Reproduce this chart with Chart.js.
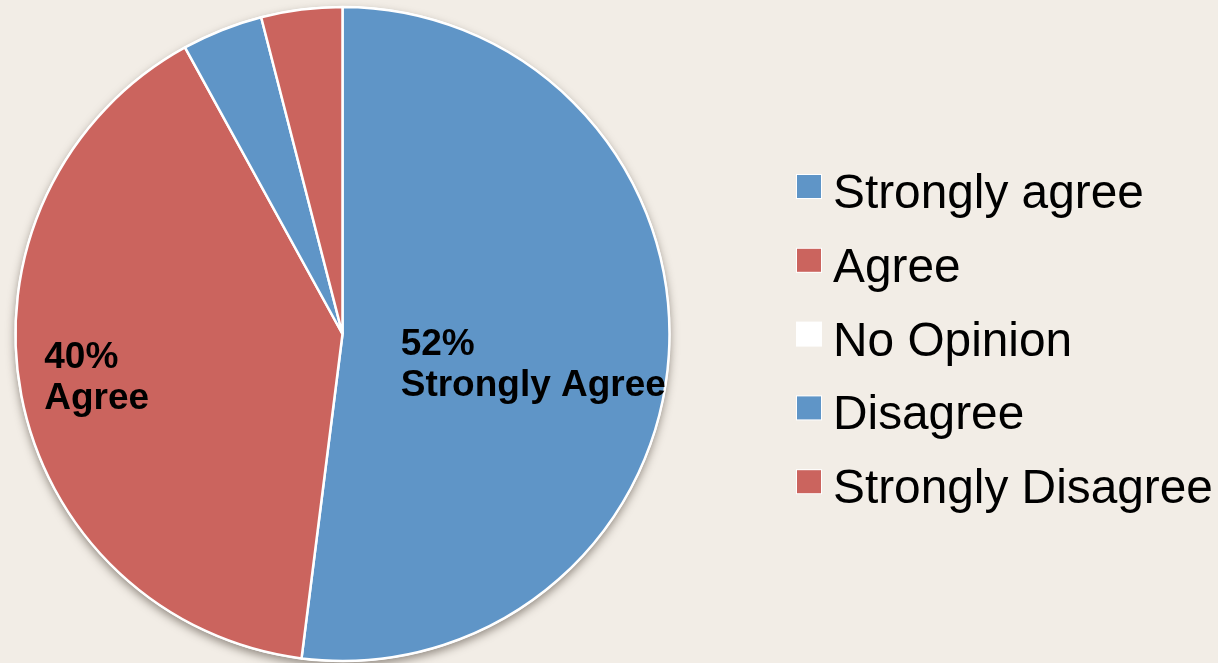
<!DOCTYPE html>
<html>
<head>
<meta charset="utf-8">
<script src="https://cdn.jsdelivr.net/npm/chart.js@4.4.1/dist/chart.umd.min.js"></script>
<style>
  html, body { margin: 0; padding: 0; background: #F2EDE6; }
  #survey-chart { display: block; }
</style>
</head>
<body>
<canvas id="survey-chart" width="1218" height="663"></canvas>
<script>
// Survey responses
const categories = ['Strongly agree', 'Agree', 'No Opinion', 'Disagree', 'Strongly Disagree'];
const percentages = [52, 40, 0, 4, 4];
const sliceColors = ['#5F95C7', '#CB645E', '#FFFFFF', '#5F95C7', '#CB645E'];

// In-slice captions: [slice index, caption], with offsets as fractions of the radius
const sliceCaptions = [
  { index: 0, text: 'Strongly Agree', dx: 0.178, dy: 0.064 },
  { index: 1, text: 'Agree', dx: -0.912, dy: 0.104 }
];

const FONT = '"Liberation Sans", Arial, Helvetica, sans-serif';

// soft drop shadow under the pie
const pieShadow = {
  id: 'pieShadow',
  beforeDatasetsDraw(chart) {
    const arc = chart.getDatasetMeta(0).data[0];
    if (!arc) return;
    const { x, y, outerRadius } = arc.getProps(['x', 'y', 'outerRadius'], true);
    const ctx = chart.ctx;
    ctx.save();
    ctx.shadowColor = 'rgba(60, 50, 40, 0.5)';
    ctx.shadowBlur = 8;
    ctx.shadowOffsetY = 4;
    ctx.fillStyle = '#FFFFFF';
    ctx.beginPath();
    ctx.arc(x, y, outerRadius + 1, 0, Math.PI * 2);
    ctx.fill();
    ctx.restore();
  }
};

// percentage + category text inside the big slices
const captionPlugin = {
  id: 'captions',
  afterDatasetsDraw(chart) {
    const ctx = chart.ctx;
    const values = chart.data.datasets[0].data;
    const total = values.reduce((a, b) => a + b, 0);
    sliceCaptions.forEach(c => {
      const arc = chart.getDatasetMeta(0).data[c.index];
      const { x, y, outerRadius } = arc.getProps(['x', 'y', 'outerRadius'], true);
      const left = x + c.dx * outerRadius;
      const top = y + c.dy * outerRadius;
      const pct = Math.round(values[c.index] / total * 100) + '%';
      ctx.save();
      ctx.fillStyle = '#000000';
      ctx.font = 'bold 37px ' + FONT;
      ctx.textAlign = 'left';
      ctx.textBaseline = 'alphabetic';
      ctx.fillText(pct, left, top);
      ctx.fillText(c.text, left, top + 41);
      ctx.restore();
    });
  }
};

// legend column on the right
const legendPlugin = {
  id: 'sideLegend',
  afterDraw(chart) {
    const ctx = chart.ctx;
    const ds = chart.data.datasets[0];
    const boxX = 797, textX = 833, firstBaseline = 208, rowGap = 73.8;
    ctx.save();
    ctx.font = '47.8px ' + FONT;
    ctx.textAlign = 'left';
    ctx.textBaseline = 'alphabetic';
    chart.data.labels.forEach((label, i) => {
      const base = firstBaseline + i * rowGap;
      ctx.fillStyle = '#FFFFFF';
      ctx.fillRect(boxX - 1, base - 34, 26, 25);
      ctx.fillStyle = ds.backgroundColor[i];
      ctx.fillRect(boxX, base - 33, 24, 23);
      ctx.fillStyle = '#000000';
      ctx.fillText(label, textX, base);
    });
    ctx.restore();
  }
};

const ctx = document.getElementById('survey-chart').getContext('2d');
new Chart(ctx, {
  type: 'pie',
  data: {
    labels: categories,
    datasets: [{
      data: percentages,
      backgroundColor: sliceColors,
      borderColor: '#FFFFFF',
      borderWidth: 2.5
    }]
  },
  options: {
    responsive: false,
    animation: false,
    radius: 327,
    layout: { padding: { left: 0, right: 533, top: 5, bottom: 0 } },
    plugins: {
      legend: { display: false },
      tooltip: { enabled: false }
    }
  },
  plugins: [pieShadow, captionPlugin, legendPlugin]
});
</script>
</body>
</html>
